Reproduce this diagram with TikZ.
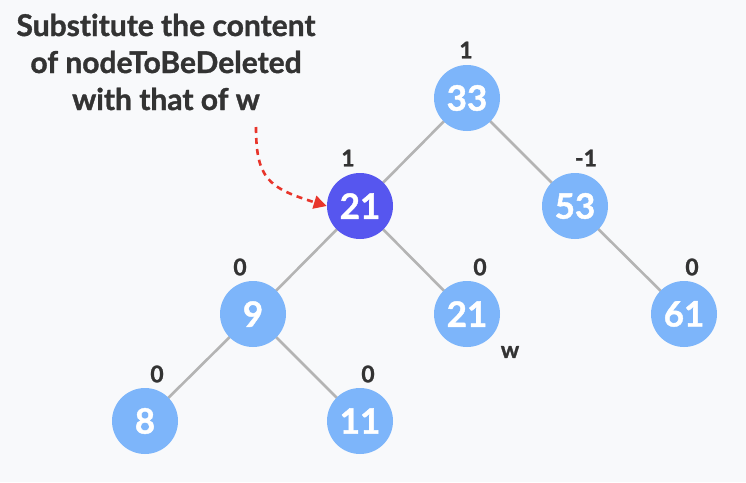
\documentclass[tikz,border=0pt]{standalone}
\usepackage{fontspec}
\setmainfont{Lato}[Ligatures=NoCommon,BoldFeatures={FakeBold=1.2}]
\usetikzlibrary{arrows.meta,backgrounds}
\definecolor{bg}{HTML}{F8F9FB}
\definecolor{lightb}{HTML}{7DB5FA}
\definecolor{darkb}{HTML}{5656EF}
\definecolor{edgeg}{HTML}{B4B4B4}
\definecolor{txt}{HTML}{333333}
\definecolor{redar}{HTML}{E8352B}
\tikzset{
  tnode/.style={circle, fill=lightb, minimum size=66pt, inner sep=0pt, text=white, font=\fontsize{35}{35}\selectfont\bfseries},
  dnode/.style={tnode, fill=darkb},
  bal/.style={text=txt, font=\fontsize{23}{23}\selectfont\bfseries, inner sep=0pt},
  edge/.style={draw=edgeg, line width=2.6pt},
}
\begin{document}
\begin{tikzpicture}[x=1pt,y=-1pt]
\useasboundingbox (0,0) rectangle (746,482);
\node[tnode] (n33) at (467,98) {33};
\node[dnode] (n21) at (360,206) {21};
\node[tnode] (n53) at (575,206) {53};
\node[tnode] (n9) at (253,314) {9};
\node[tnode] (n21w) at (467,314) {21};
\node[tnode] (n61) at (684,314) {61};
\node[tnode] (n8) at (145,421) {8};
\node[tnode] (n11) at (360,421) {11};
\begin{scope}[on background layer]
\fill[bg] (0,0) rectangle (746,482);
\draw[edge] (n33.center) -- (n21.center);
\draw[edge] (n33.center) -- (n53.center);
\draw[edge] (n21.center) -- (n9.center);
\draw[edge] (n21.center) -- (n21w.center);
\draw[edge] (n53.center) -- (n61.center);
\draw[edge] (n9.center) -- (n8.center);
\draw[edge] (n9.center) -- (n11.center);
\end{scope}
\node[bal] (b33) at (466,50) {1};
\node[bal] (b21) at (348,158) {1};
\node[bal] (b53) at (586,158) {-1};
\node[bal] (b9) at (240,267) {0};
\node[bal] (b21w) at (480,267) {0};
\node[bal] (b61) at (692,267) {0};
\node[bal] (b8) at (157,374) {0};
\node[bal] (b11) at (368,374) {0};
\node[bal] (w) at (510,352) {w};
\node[text=txt, font=\fontsize{30}{37}\selectfont\bfseries, align=center, inner sep=0pt] (note) at (166,62) {Substitute the content\\of nodeToBeDeleted\\with that of w};
\coordinate (as) at (256,127);
\draw[redar, line width=2.6pt, dash pattern=on 6pt off 5pt, -{Triangle[length=13pt,width=13pt]}] (as) .. controls (256,178) and (268,188) .. (n21.west);
\end{tikzpicture}
\end{document}
